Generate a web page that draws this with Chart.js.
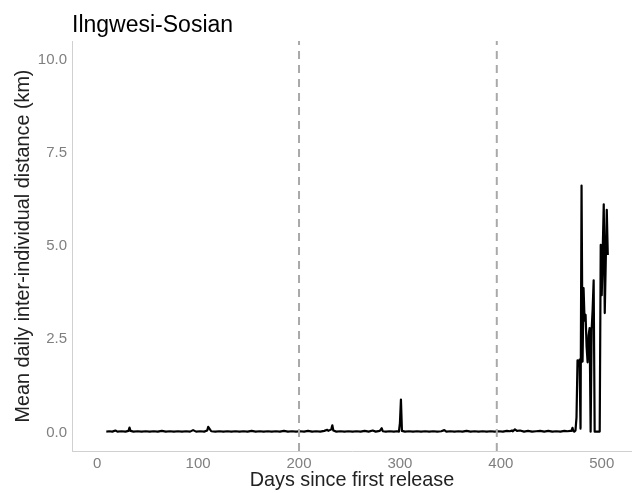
<!DOCTYPE html>
<html>
<head>
<meta charset="utf-8">
<title>Ilngwesi-Sosian</title>
<script src="https://cdn.jsdelivr.net/npm/chart.js@4.4.1/dist/chart.umd.min.js"></script>
<style>
  html, body { margin: 0; padding: 0; background: #ffffff; }
  #chart { display: block; }
</style>
</head>
<body>
<canvas id="chart" width="632" height="493"></canvas>
<script>
// mean daily inter-individual distance for the Ilngwesi-Sosian group
const titleText = 'Ilngwesi-Sosian';

const days = [
    9, 12, 15, 18, 20, 24, 28, 31, 32, 33, 36, 40, 44, 48, 52, 56, 60, 64, 68, 72,
    76, 80, 84, 88, 92, 95, 98, 102, 106, 109, 110, 113, 117, 121, 125, 129, 133, 137, 141, 145,
    149, 153, 157, 161, 165, 169, 173, 177, 181, 185, 189, 193, 197, 201, 205, 209, 213, 217, 221, 225,
    228, 229, 232, 233, 234, 237, 241, 245, 249, 253, 257, 261, 265, 269, 273, 276, 280, 282, 283, 286,
    290, 294, 297, 299, 300, 301, 302, 305, 309, 313, 317, 321, 325, 329, 333, 337, 341, 344, 346, 350,
    354, 358, 362, 366, 370, 374, 378, 382, 386, 390, 394, 398, 402, 406, 409, 411, 412, 414, 416, 419,
    423, 427, 431, 435, 439, 443, 447, 451, 455, 459, 463, 466, 469,
    470, 471, 472, 473, 474, 475, 476, 477, 478, 479, 480, 481, 482, 483, 484, 485, 486, 487, 488,
    489, 490, 491, 492, 493, 494, 495, 496, 497, 498, 499, 500, 501, 502, 503, 504, 505, 506
];

const distanceKm = [
    0.02, 0.03, 0.02, 0.05, 0.02, 0.03, 0.02, 0.04, 0.13, 0.04, 0.02, 0.03, 0.02, 0.03, 0.02, 0.03, 0.02, 0.04, 0.02, 0.03,
    0.02, 0.03, 0.02, 0.03, 0.02, 0.06, 0.02, 0.03, 0.02, 0.05, 0.15, 0.03, 0.02, 0.03, 0.02, 0.03, 0.02, 0.03, 0.02, 0.03,
    0.02, 0.04, 0.02, 0.03, 0.02, 0.03, 0.02, 0.03, 0.02, 0.04, 0.02, 0.03, 0.02, 0.03, 0.02, 0.04, 0.02, 0.03, 0.02, 0.04,
    0.07, 0.04, 0.08, 0.19, 0.05, 0.02, 0.03, 0.02, 0.03, 0.02, 0.03, 0.02, 0.04, 0.02, 0.05, 0.02, 0.04, 0.11, 0.03, 0.02,
    0.03, 0.02, 0.03, 0.02, 0.25, 0.88, 0.04, 0.02, 0.03, 0.02, 0.03, 0.02, 0.03, 0.02, 0.03, 0.02, 0.03, 0.06, 0.02, 0.03,
    0.02, 0.03, 0.02, 0.04, 0.02, 0.03, 0.02, 0.03, 0.02, 0.03, 0.02, 0.03, 0.02, 0.04, 0.03, 0.05, 0.03, 0.08, 0.04, 0.05,
    0.02, 0.04, 0.02, 0.03, 0.04, 0.02, 0.04, 0.02, 0.03, 0.02, 0.04, 0.03, 0.04,
    0.04, 0.12, 0.03, 0.02, 0.05, 0.40, 1.93, 1.82, 1.95, 0.10, 6.62, 1.90, 3.87, 3.00, 3.15, 2.30, 1.88, 2.60, 2.80,
    0.02, 2.75, 3.30, 4.08, 0.02, 0.02, 0.02, 0.02, 0.02, 0.02, 5.03, 3.68, 4.90, 6.12, 3.20, 4.60, 5.97, 4.76
];

// dashed markers for the later release dates
const releaseDays = [200, 396];

const xTicks = [0, 100, 200, 300, 400, 500];
const yTicks = [0, 2.5, 5, 7.5, 10];
const yMin = -0.5;
const yMax = 10.5;

Chart.defaults.font.family = '"Liberation Sans", Arial, Helvetica, sans-serif';

const plotTitle = {
    id: 'plotTitle',
    afterDraw(chart) {
        const ctx = chart.ctx;
        ctx.save();
        ctx.font = '23px "Liberation Sans", Arial, Helvetica, sans-serif';
        ctx.fillStyle = '#000000';
        ctx.textBaseline = 'alphabetic';
        ctx.textAlign = 'left';
        ctx.fillText(titleText, chart.chartArea.left, 32);
        ctx.restore();
    }
};

let markerSets = releaseDays.map(function (d) {
    return {
        data: [{x: d, y: yMin}, {x: d, y: yMax}],
        borderColor: '#a9a9a9',
        borderWidth: 2,
        borderDash: [8, 6],
        pointRadius: 0,
        order: 0
    };
});

let distanceSet = {
    data: days.map(function (d, i) { return {x: d, y: distanceKm[i]}; }),
    borderColor: '#000000',
    borderWidth: 2.2,
    borderJoinStyle: 'round',
    pointRadius: 0,
    tension: 0,
    order: 1
};

new Chart(document.getElementById('chart'), {
    type: 'line',
    data: {
        datasets: markerSets.concat([distanceSet])
    },
    options: {
        responsive: false,
        animation: false,
        layout: {
            padding: {top: 41, right: 0, bottom: 0, left: 0}
        },
        plugins: {
            legend: {display: false},
            tooltip: {enabled: false}
        },
        scales: {
            x: {
                type: 'linear',
                min: -25,
                max: 530,
                grid: {display: false, drawTicks: false},
                border: {display: true, color: '#d0d0d0', width: 1},
                ticks: {
                    color: '#7f7f7f',
                    font: {size: 15},
                    padding: 4,
                    maxRotation: 0,
                    callback: function (v) { return String(v); }
                },
                afterBuildTicks: function (scale) {
                    scale.ticks = xTicks.map(function (v) { return {value: v}; });
                },
                afterFit: function (scale) {
                    scale.height = 42;
                },
                title: {
                    display: true,
                    text: 'Days since first release',
                    color: '#222222',
                    font: {size: 19.8},
                    padding: {top: 0, bottom: 1}
                }
            },
            y: {
                type: 'linear',
                min: yMin,
                max: yMax,
                grid: {display: false, drawTicks: false},
                border: {display: true, color: '#d0d0d0', width: 1},
                ticks: {
                    color: '#7f7f7f',
                    font: {size: 15},
                    padding: 5,
                    callback: function (v) { return Number(v).toFixed(1); }
                },
                afterBuildTicks: function (scale) {
                    scale.ticks = yTicks.map(function (v) { return {value: v}; });
                },
                afterFit: function (scale) {
                    scale.width = 72;
                },
                title: {
                    display: true,
                    text: 'Mean daily inter-individual distance (km)',
                    color: '#222222',
                    font: {size: 19.8},
                    padding: {top: 12, bottom: 0}
                }
            }
        }
    },
    plugins: [plotTitle]
});
</script>
</body>
</html>
